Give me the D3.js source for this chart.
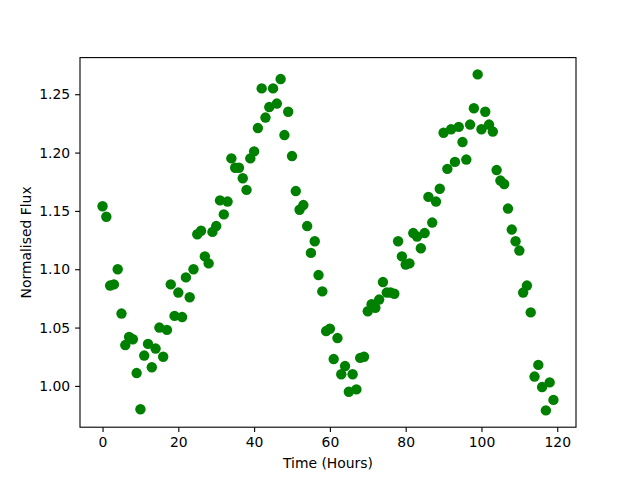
<!DOCTYPE html>
<html>
<head>
<meta charset="utf-8">
<script src="https://cdn.jsdelivr.net/npm/d3@7"></script>
<style>
  html, body { margin: 0; padding: 0; background: #fff; }
  svg { display: block; }
  text { font-family: "DejaVu Sans", sans-serif; }
</style>
</head>
<body>
<svg id="chart" width="640" height="480"></svg>
<script>
// Time in hours, one reading per hour
const hours = d3.range(0, 120);
const flux = [
  1.154, 1.145, 1.086, 1.087, 1.100, 1.062, 1.035, 1.042, 1.040, 1.011,
  0.980, 1.026, 1.036, 1.016, 1.032, 1.050, 1.025, 1.048, 1.087, 1.060,
  1.080, 1.059, 1.093, 1.076, 1.100, 1.130, 1.133, 1.111, 1.105, 1.132,
  1.137, 1.159, 1.147, 1.158, 1.195, 1.187, 1.187, 1.178, 1.168, 1.195,
  1.201, 1.221, 1.255, 1.230, 1.239, 1.255, 1.242, 1.263, 1.215, 1.235,
  1.197, 1.167, 1.151, 1.155, 1.137, 1.114, 1.124, 1.095, 1.081, 1.047,
  1.049, 1.023, 1.041, 1.010, 1.017, 0.995, 1.010, 0.997, 1.024, 1.025,
  1.064, 1.070, 1.067, 1.074, 1.089, 1.080, 1.080, 1.079, 1.124, 1.111,
  1.104, 1.105, 1.131, 1.128, 1.118, 1.131, 1.162, 1.140, 1.158, 1.169,
  1.217, 1.186, 1.220, 1.192, 1.222, 1.209, 1.194, 1.224, 1.238, 1.267,
  1.220, 1.235, 1.224, 1.218, 1.185, 1.176, 1.173, 1.152, 1.134, 1.124,
  1.116, 1.080, 1.086, 1.063, 1.008, 1.018, 0.999, 0.979, 1.003, 0.988
];
const xTicks = [0, 20, 40, 60, 80, 100, 120];
const yTicks = [1.00, 1.05, 1.10, 1.15, 1.20, 1.25];
const xLabel = "Time (Hours)";
const yLabel = "Normalised Flux";

(function () {
  const data = hours.map((h, i) => ({ t: h, f: flux[i] }));

  const mLeft = 80, mRight = 576, mTop = 57.6, mBottom = 427.2;

  function padded(ext) {
    const span = ext[1] - ext[0];
    return [ext[0] - 0.05 * span, ext[1] + 0.05 * span];
  }

  const x = d3.scaleLinear().domain(padded(d3.extent(hours))).range([mLeft, mRight]);
  const y = d3.scaleLinear().domain(padded(d3.extent(flux))).range([mBottom, mTop]);

  const svg = d3.select("#chart");
  const fs = 13.9;

  // points
  svg.append("g")
    .selectAll("circle")
    .data(data)
    .join("circle")
    .attr("cx", d => x(d.t))
    .attr("cy", d => y(d.f))
    .attr("r", 5.2)
    .attr("fill", "#008000");

  // axes
  const xAxis = d3.axisBottom(x).tickValues(xTicks).tickFormat(d3.format("d"))
    .tickSize(4.9).tickSizeOuter(0).tickPadding(4.9);
  const yAxis = d3.axisLeft(y).tickValues(yTicks).tickFormat(d3.format(".2f"))
    .tickSize(4.9).tickSizeOuter(0).tickPadding(4.9);

  const gx = svg.append("g").attr("transform", `translate(0,${mBottom})`).call(xAxis);
  const gy = svg.append("g").attr("transform", `translate(${mLeft},0)`).call(yAxis);
  [gx, gy].forEach(g => {
    g.select(".domain").remove();
    g.selectAll(".tick line").attr("stroke", "#000").attr("stroke-width", 1.1);
    g.selectAll(".tick text").attr("fill", "#000").style("font-size", fs + "px")
      .style("font-family", "'DejaVu Sans', sans-serif");
  });

  // frame
  svg.append("rect")
    .attr("x", mLeft).attr("y", mTop)
    .attr("width", mRight - mLeft).attr("height", mBottom - mTop)
    .attr("fill", "none").attr("stroke", "#000").attr("stroke-width", 1.1);

  // labels
  svg.append("text")
    .attr("x", (mLeft + mRight) / 2).attr("y", 468)
    .attr("text-anchor", "middle")
    .style("font-size", fs + "px")
    .text(xLabel);

  svg.append("text")
    .attr("transform", `translate(31,${(mTop + mBottom) / 2}) rotate(-90)`)
    .attr("text-anchor", "middle")
    .style("font-size", fs + "px")
    .text(yLabel);
})();
</script>
</body>
</html>
